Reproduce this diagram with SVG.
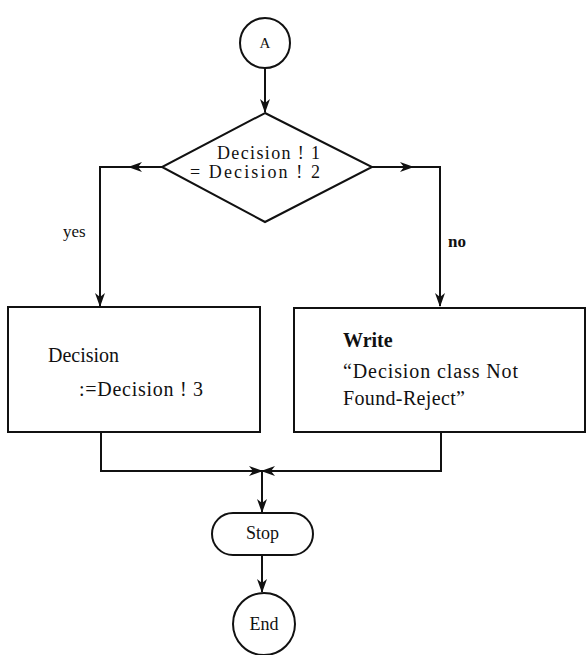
<svg xmlns="http://www.w3.org/2000/svg" width="586" height="655" viewBox="0 0 586 655">
  <style>
    .shape { fill: #fff; stroke: #111; stroke-width: 2; }
    .wire { fill: none; stroke: #111; stroke-width: 2; }
    .lbl { font-family: "Liberation Serif", "Times New Roman", serif; fill: #111; }
  </style>
  <defs>
    <marker id="arrow" markerUnits="userSpaceOnUse" markerWidth="14" markerHeight="10" viewBox="0 0 14 10" refX="13" refY="5" orient="auto">
      <path d="M0,0 L14,5 L0,10 L4,5 z" fill="#111"/>
    </marker>
  </defs>

  <!-- connectors -->
  <g id="connectors">
    <line class="wire" x1="265" y1="68" x2="265" y2="112" marker-end="url(#arrow)"/>
    <!-- yes branch -->
    <line class="wire" x1="162" y1="167" x2="129" y2="167" marker-end="url(#arrow)"/>
    <polyline class="wire" points="129,167 100,167 100,306" marker-end="url(#arrow)"/>
    <!-- no branch -->
    <line class="wire" x1="372" y1="167" x2="413" y2="167" marker-end="url(#arrow)"/>
    <polyline class="wire" points="413,167 440,167 440,306" marker-end="url(#arrow)"/>
    <!-- merge -->
    <polyline class="wire" points="101,432 101,471 262,471" marker-end="url(#arrow)"/>
    <polyline class="wire" points="441,432 441,471 262,471" marker-end="url(#arrow)"/>
    <line class="wire" x1="262" y1="471" x2="262" y2="512" marker-end="url(#arrow)"/>
    <line class="wire" x1="262" y1="555" x2="262" y2="592" marker-end="url(#arrow)"/>
    <text class="lbl" x="63" y="237" font-size="17">yes</text>
    <text class="lbl" x="448" y="247" font-size="17" font-weight="bold">no</text>
  </g>

  <g id="start">
    <circle class="shape" cx="265" cy="43" r="25"/>
    <text class="lbl" x="265" y="48" font-size="15" text-anchor="middle">A</text>
  </g>

  <g id="decision">
    <polygon class="shape" points="265,113 372,167 265,222 162,167"/>
    <text class="lbl" x="217" y="159" font-size="18" textLength="103" lengthAdjust="spacing">Decision !  1</text>
    <text class="lbl" x="190" y="178" font-size="18" textLength="130" lengthAdjust="spacing">= Decision !  2</text>
  </g>

  <g id="assign">
    <rect class="shape" x="8" y="307" width="252" height="125"/>
    <text class="lbl" x="48" y="362" font-size="20">Decision</text>
    <text class="lbl" x="79" y="396" font-size="20" textLength="124" lengthAdjust="spacing">:=Decision ! 3</text>
  </g>

  <g id="reject">
    <rect class="shape" x="294" y="308" width="291" height="124"/>
    <text class="lbl" x="343" y="347" font-size="20" font-weight="bold">Write</text>
    <text class="lbl" x="343" y="378" font-size="20" textLength="175" lengthAdjust="spacing">“Decision  class Not</text>
    <text class="lbl" x="343" y="405" font-size="20" textLength="122" lengthAdjust="spacing">Found-Reject”</text>
  </g>

  <g id="stop">
    <rect class="shape" x="212" y="513" width="101" height="42" rx="21" ry="21"/>
    <text class="lbl" x="262.5" y="539" font-size="18" text-anchor="middle">Stop</text>
  </g>

  <g id="end">
    <circle class="shape" cx="264" cy="624" r="31"/>
    <text class="lbl" x="264" y="630" font-size="18" text-anchor="middle">End</text>
  </g>
</svg>
